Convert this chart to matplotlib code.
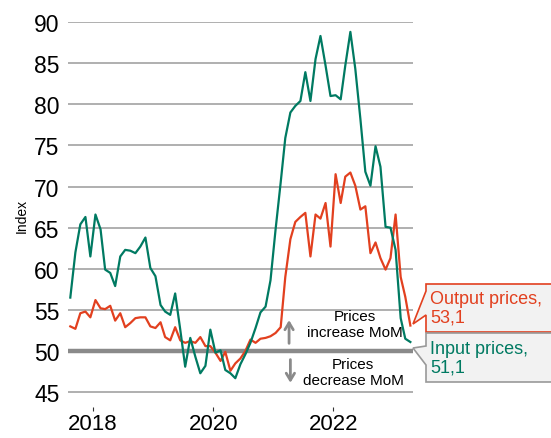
import numpy as np
import pandas as pd
import matplotlib
matplotlib.use('Agg')
import matplotlib.pyplot as plt
from matplotlib.patches import Polygon

plt.rcParams['font.family'] = ['Liberation Sans', 'DejaVu Sans']

# monthly index values, Aug 2017 - Apr 2023
start_month = '2017-08-01'
input_prices = [56.5, 62.0, 65.4, 66.3, 61.5, 66.6, 64.8, 59.9, 59.5, 57.9,
                61.5, 62.3, 62.2, 61.9, 62.7, 63.8, 60.1, 59.1, 55.6, 54.8,
                54.4, 57.0, 52.6, 48.1, 51.6, 49.3, 47.3, 48.2, 52.6, 49.8,
                50.1, 47.7, 47.3, 46.7, 48.4, 49.6, 51.0, 52.8, 54.7, 55.4,
                58.6, 64.8, 70.5, 75.9, 79.0, 79.8, 80.4, 83.9, 80.4, 85.5,
                88.3, 84.7, 81.0, 81.1, 80.6, 84.7, 88.8, 84.3, 78.2, 71.8,
                70.1, 74.9, 72.4, 65.1, 65.0, 62.3, 54.0, 51.5, 51.1]
output_prices = [53.0, 52.7, 54.6, 54.8, 54.1, 56.2, 55.2, 55.1, 55.5, 53.7,
                 54.6, 52.9, 53.4, 54.0, 54.1, 54.1, 53.0, 52.8, 53.5, 51.7,
                 51.3, 52.9, 51.3, 51.0, 51.2, 51.0, 51.7, 50.6, 50.6, 49.8,
                 48.8, 49.9, 47.6, 48.5, 49.1, 50.0, 51.4, 51.0, 51.5, 51.6,
                 51.8, 52.2, 52.9, 59.0, 63.6, 65.7, 66.3, 66.8, 61.5, 66.6,
                 66.1, 68.0, 62.7, 71.5, 68.0, 71.2, 71.7, 70.1, 67.2, 67.6,
                 61.9, 63.2, 61.3, 59.9, 61.3, 66.6, 59.0, 56.6, 53.1]
year_ticks = ['2018', '2020', '2022']
yticks = [45, 50, 55, 60, 65, 70, 75, 80, 85, 90]

dates = pd.date_range(start_month, periods=len(input_prices), freq='MS') + pd.Timedelta(days=14)

green = '#007a62'
red = '#e2401f'
gray = '#8a8a8a'

W, H = 551, 439
fig = plt.figure(figsize=(W / 100, H / 100), dpi=100)
ax = fig.add_axes([68 / W, 1 - 408 / H, 345 / W, (408 - 23) / H])


def px(x, y):
    # pixel position (from top-left) -> figure fraction
    return (x / W, 1 - y / H)


for v in yticks:
    ax.axhline(v, color='#9a9a9a', lw=1.1, zorder=1)
ax.axhline(50, color=gray, lw=3.2, zorder=2)

ax.plot(dates, output_prices, color=red, lw=1.6, zorder=4)
ax.plot(dates, input_prices, color=green, lw=1.6, zorder=5)

ax.set_xlim(pd.Timestamp('2017-08-01'), pd.Timestamp('2023-05-01'))
ax.set_ylim(43.2, 90)
ax.set_yticks(yticks)
ax.set_yticklabels([str(v) for v in yticks], fontsize=16.5)
ax.tick_params(axis='y', length=0, pad=6)
ax.set_xticks([pd.Timestamp(y + '-01-01') for y in year_ticks])
ax.set_xticklabels(year_ticks, fontsize=16)
ax.tick_params(axis='x', length=3, width=0.8, color='#333333', pad=1.5)
for s in ax.spines.values():
    s.set_visible(False)
ax.set_ylabel('Index', fontsize=10, labelpad=4)

# direction hints
ax.text(pd.Timestamp('2022-05-15'), 53.3, 'Prices\nincrease MoM', ha='center', va='center',
        fontsize=11, multialignment='center', zorder=3)
ax.text(pd.Timestamp('2022-05-01'), 47.5, 'Prices\ndecrease MoM', ha='center', va='center',
        fontsize=11, multialignment='center', zorder=3)
ax.annotate('', xy=(pd.Timestamp('2021-04-07'), 54.1), xytext=(pd.Timestamp('2021-04-07'), 50.6),
            arrowprops=dict(arrowstyle='->,head_length=0.5,head_width=0.3', color=gray, lw=2))
ax.annotate('', xy=(pd.Timestamp('2021-04-15'), 45.8), xytext=(pd.Timestamp('2021-04-15'), 49.3),
            arrowprops=dict(arrowstyle='->,head_length=0.5,head_width=0.3', color=gray, lw=2))

# callouts for the latest values
out_box = [px(426, 285), px(560, 285), px(560, 333), px(426, 333), px(426, 316),
           px(413, 325), px(426, 292)]
in_box = [px(426, 334), px(560, 334), px(560, 383), px(426, 383), px(426, 366),
          px(413, 349), px(426, 347)]
fig.add_artist(Polygon(out_box, closed=True, transform=fig.transFigure,
                       facecolor='#f2f2f2', edgecolor=red, lw=1.2, zorder=6))
fig.add_artist(Polygon(in_box, closed=True, transform=fig.transFigure,
                       facecolor='#f2f2f2', edgecolor='#999999', lw=1.2, zorder=6))
fig.text(*px(430, 309), 'Output prices,\n' + str(output_prices[-1]).replace('.', ','),
         color=red, fontsize=13, va='center', ha='left', linespacing=1.15, zorder=7)
fig.text(*px(430, 359), 'Input prices,\n' + str(input_prices[-1]).replace('.', ','),
         color=green, fontsize=13, va='center', ha='left', linespacing=1.15, zorder=7)

fig.savefig('out.png', dpi=100)
